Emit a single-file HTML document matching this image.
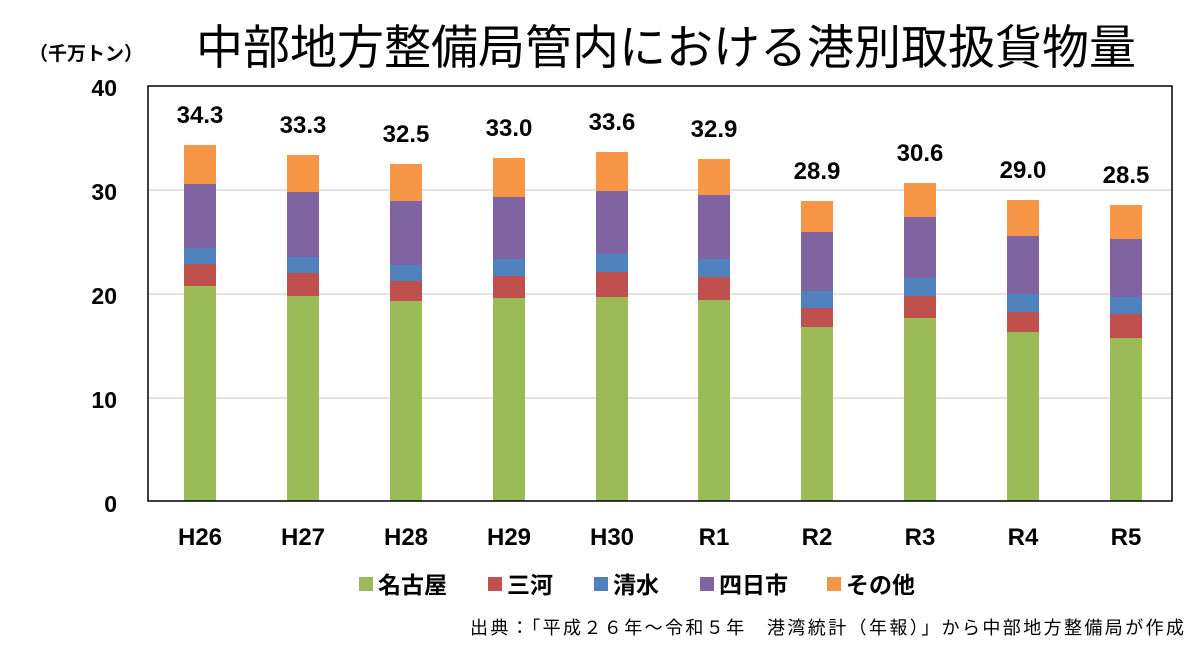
<!DOCTYPE html>
<html><head><meta charset="utf-8"><style>
body{margin:0;background:#fff;}
svg text{font-family:"Liberation Sans","Noto Sans CJK JP",sans-serif;}
</style></head><body>
<svg width="1200" height="649" viewBox="0 0 1200 649" xmlns="http://www.w3.org/2000/svg">
<rect width="1200" height="649" fill="#fff"/>
<text x="666" y="64" font-size="47" text-anchor="middle" fill="#000" style="font-family:'Noto Sans CJK JP',sans-serif">中部地方整備局管内における港別取扱貨物量</text>
<text x="86" y="60" font-size="19" font-weight="bold" text-anchor="middle" style="font-family:'Noto Sans CJK JP',sans-serif">（千万トン）</text>
<g stroke="#d9d9d9" stroke-width="1.5">
<line x1="148" y1="190" x2="1172" y2="190"/><line x1="148" y1="294" x2="1172" y2="294"/><line x1="148" y1="398" x2="1172" y2="398"/>
</g>
<g font-size="23" font-weight="bold" text-anchor="end">
<text x="117" y="96">40</text><text x="117" y="200">30</text><text x="117" y="304">20</text><text x="117" y="408">10</text><text x="117" y="512">0</text>
</g>
<g id="bars"></g>
<rect x="148" y="86" width="1024" height="415" fill="none" stroke="#000" stroke-width="1.5"/>
<g font-size="24" font-weight="bold" text-anchor="middle" id="labels"></g>
<g font-size="23" font-weight="bold" style="font-family:'Noto Sans CJK JP',sans-serif">
<rect x="359" y="577" width="14" height="14" fill="#9BBB59"/><text x="378" y="593">名古屋</text>
<rect x="488" y="577" width="14" height="14" fill="#C0504D"/><text x="507" y="593">三河</text>
<rect x="594" y="577" width="14" height="14" fill="#4F81BD"/><text x="613" y="593">清水</text>
<rect x="700" y="577" width="14" height="14" fill="#8064A2"/><text x="719" y="593">四日市</text>
<rect x="827" y="577" width="14" height="14" fill="#F79646"/><text x="846" y="593">その他</text>
</g>
<text x="470" y="634" font-size="18" textLength="714" lengthAdjust="spacing" style="font-family:'Noto Sans CJK JP',sans-serif">出典：「平成２６年～令和５年　港湾統計（年報）」から中部地方整備局が作成</text>
<script>
var d=[["H26",200,[286,264,248,184,145],"34.3"],["H27",303,[296,273,257,192,155],"33.3"],["H28",406,[301,281,265,201,164],"32.5"],["H29",509,[298,276,259,197,158],"33.0"],["H30",612,[297,272,254,191,152],"33.6"],["R1",714,[300,277,259,195,159],"32.9"],["R2",817,[327,308,291,232,201],"28.9"],["R3",920,[318,296,278,217,183],"30.6"],["R4",1023,[332,312,294,236,200],"29.0"],["R5",1126,[338,314,297,239,205],"28.5"]];
var c=["#9BBB59","#C0504D","#4F81BD","#8064A2","#F79646"];
var ns="http://www.w3.org/2000/svg",g=document.getElementById("bars"),l=document.getElementById("labels");
d.forEach(function(b){var prev=501;for(var i=0;i<5;i++){var r=document.createElementNS(ns,"rect");r.setAttribute("x",b[1]-16);r.setAttribute("width",32);r.setAttribute("y",b[2][i]);r.setAttribute("height",prev-b[2][i]);r.setAttribute("fill",c[i]);g.appendChild(r);prev=b[2][i];}
var t=document.createElementNS(ns,"text");t.setAttribute("x",b[1]);t.setAttribute("y",b[2][4]-22);t.textContent=b[3];l.appendChild(t);
t=document.createElementNS(ns,"text");t.setAttribute("x",b[1]);t.setAttribute("y",545);t.textContent=b[0];l.appendChild(t);});
</script>
</svg>
</body></html>
